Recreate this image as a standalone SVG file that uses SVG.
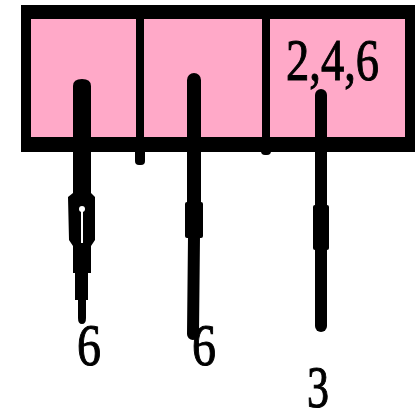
<svg xmlns="http://www.w3.org/2000/svg" width="419" height="411" viewBox="0 0 419 411">
  <style>
    .frame { fill: #000; }
    .cell { fill: #ffa9c8; }
    .bar { fill: #000; }
    .wire { stroke: #000; fill: none; stroke-linecap: round; }
    .lbl { font-family: "Liberation Serif", "Times New Roman", serif; font-size: 60px; fill: #000; stroke: #000; stroke-width: 1.1px; }
  </style>

  <!-- outer record frame -->
  <g id="record">
    <rect class="frame" x="21" y="5" width="394" height="147"/>
    <g id="cell-1"><rect class="cell" x="31" y="19" width="105" height="118"/></g>
    <g id="cell-2"><rect class="cell" x="144" y="19" width="118" height="118"/></g>
    <g id="cell-3">
      <rect class="cell" x="270" y="19" width="135" height="118"/>
      <text class="lbl" x="286" y="80" textLength="93" lengthAdjust="spacingAndGlyphs">2,4,6</text>
    </g>
    <!-- divider stubs below the frame -->
    <rect class="bar" x="135" y="140" width="10" height="25" rx="4"/>
    <rect class="bar" x="261" y="140" width="10" height="15" rx="4"/>
  </g>

  <g id="connectors">
    <!-- left port: thick shaft, lens-shaped sleeve, tapering tip -->
    <path class="bar" d="M73,86 Q73,79 82,79 Q91,79 91,86 L91,193 L95,197 L95,240 L91,246 L91,273 L88,273 L88,300 L86,300 L86,318 Q86,324 82,324 Q78,324 78,318 L78,300 L75,300 L75,273 L73,273 L73,246 L69,240 L68,197 L73,193 Z"/>
    <path fill="#fff" d="M81,210 L83,210 L83,243 L81,243 Z"/>
    <circle cx="82" cy="209" r="3" fill="#fff"/>
    <!-- middle port -->
    <line class="wire" x1="194" y1="80" x2="194" y2="205" stroke-width="14"/>
    <rect class="bar" x="185" y="202" width="18" height="36" rx="2"/>
    <line class="wire" x1="194" y1="236" x2="193" y2="334" stroke-width="12"/>
    <!-- right port -->
    <line class="wire" x1="321" y1="95" x2="321" y2="326" stroke-width="12"/>
    <rect class="bar" x="313" y="205" width="16" height="45" rx="2"/>
  </g>

  <g id="end-left"><text class="lbl" x="77" y="365" textLength="24" lengthAdjust="spacingAndGlyphs">6</text></g>
  <g id="end-middle"><text class="lbl" x="192" y="365" textLength="24" lengthAdjust="spacingAndGlyphs">6</text></g>
  <g id="end-right"><text class="lbl" x="307" y="407" textLength="22" lengthAdjust="spacingAndGlyphs">3</text></g>
</svg>
